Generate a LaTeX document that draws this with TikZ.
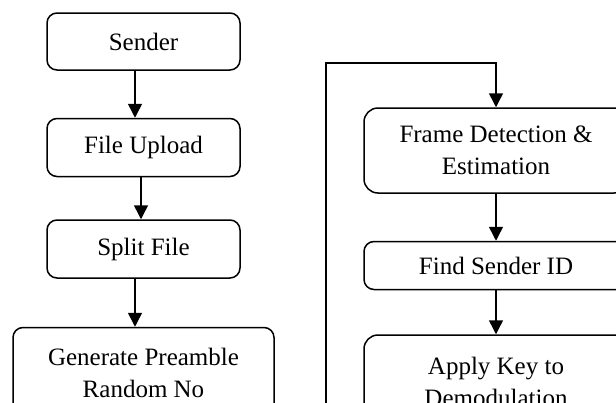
\documentclass[tikz,border=0pt]{standalone}
\usepackage{fontspec}
\setmainfont{Liberation Serif}
\usetikzlibrary{arrows.meta,positioning}

\begin{document}
\begin{tikzpicture}[x=1pt, y=-1pt,
  stage/.style={draw, rounded corners=10pt, line width=1.5pt, align=center,
    font=\fontsize{25}{32}\selectfont, inner sep=0pt},
  arr/.style={-{Triangle[length=14pt,width=14pt]}, line width=1.5pt},
]
  \clip (0,0) rectangle (616,402);
  % sender side
  \node[stage, minimum width=193pt, minimum height=57pt] (send) at (143.5,41.5) {Sender};
  \node[stage, minimum width=193pt, minimum height=58pt, below=47pt of send] (upload) {File Upload};
  \node[stage, minimum width=193pt, minimum height=58pt, below=42pt of upload] (split) {Split File};
  \node[stage, minimum width=261pt, minimum height=91pt, below=48pt of split] (pream)
    {Generate Preamble\\Random No};

  \draw[arr] ([xshift=-8.5pt]send.south) -- ([xshift=-8.5pt]upload.north);
  \draw[arr] ([xshift=-2.5pt]upload.south) -- ([xshift=-2.5pt]split.north);
  \draw[arr] ([xshift=-8.5pt]split.south) -- ([xshift=-8.5pt]pream.north);

  % receiver side
  \node[stage, rounded corners=14pt, minimum width=264pt, minimum height=85pt] (frame) at (496,150.5)
    {Frame Detection \&\\Estimation};
  \node[stage, minimum width=264pt, minimum height=48pt, below=47pt of frame] (findid) {Find Sender ID};
  \node[stage, rounded corners=14pt, minimum width=264pt, minimum height=94pt, below=44pt of findid] (applykey)
    {Apply Key to\\Demodulation};

  \draw[arr] (frame.south) -- (findid.north);
  \draw[arr] (findid.south) -- (applykey.north);

  \coordinate (loopin) at (326,420);
  \coordinate (loopbend) at (326,63);
  \draw[arr] (loopin) -- (loopbend) -| (frame.north);
\end{tikzpicture}
\end{document}
